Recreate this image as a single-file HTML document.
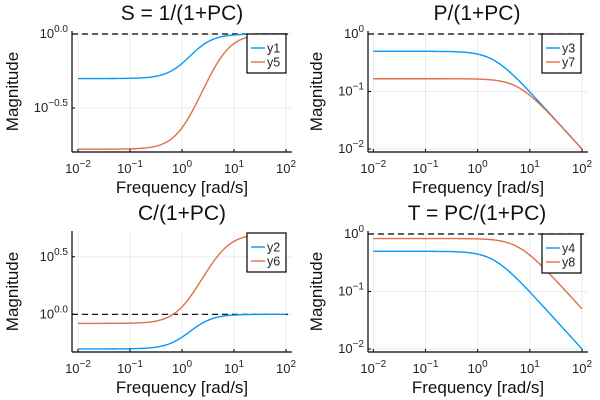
<!DOCTYPE html>
<html><head><meta charset="utf-8"><style>
html,body{margin:0;padding:0;background:#fff;}
svg{display:block;font-family:"Liberation Sans","DejaVu Sans",sans-serif;}
</style></head><body>
<svg id="s" width="600" height="400" xmlns="http://www.w3.org/2000/svg"></svg>
<script>
const svg=document.getElementById('s');let h='';
const panels=[
 {title:'S = 1/(1+PC)',ax:72,xa:78,xb:286,ar:292,yt:31,yb:152,yr:34,sc:148,ticks:[[0,'0.0'],[-0.5,'−0.5']],f:(w,k)=>Math.sqrt(w*w+1)/Math.sqrt(w*w+(1+k)*(1+k)),leg:['y1','y5'],lx:247,ly:34,cx:182},
 {title:'P/(1+PC)',ax:368,xa:373.3,xb:582,ar:588,yt:31,yb:152,yr:34,sc:57.5,ticks:[[0,'0'],[-1,'−1'],[-2,'−2']],f:(w,k)=>1/Math.sqrt(w*w+(1+k)*(1+k)),leg:['y3','y7'],lx:542,ly:34,cx:477},
 {title:'C/(1+PC)',ax:72,xa:78,xb:286,ar:292,yt:231,yb:352,yr:314.3,sc:115,ticks:[[0,'0.0'],[0.5,'0.5']],f:(w,k)=>k*Math.sqrt(w*w+1)/Math.sqrt(w*w+(1+k)*(1+k)),leg:['y2','y6'],lx:247,ly:233,cx:182},
 {title:'T = PC/(1+PC)',ax:368,xa:373.3,xb:582,ar:588,yt:231,yb:352,yr:234,sc:57.5,ticks:[[0,'0'],[-1,'−1'],[-2,'−2']],f:(w,k)=>k/Math.sqrt(w*w+(1+k)*(1+k)),leg:['y4','y8'],lx:542,ly:234,cx:477}
];
const cols=['#009af9','#e26f46'];
for(const p of panels){
 const X=l=>p.xa+(l+2)*(p.xb-p.xa)/4, Y=L=>p.yr-L*p.sc;
 for(let d=-2;d<=2;d++){const x=X(d);h+=`<line x1="${x}" y1="${p.yt}" x2="${x}" y2="${p.yb}" stroke="#e6e6e6" stroke-width="0.8"/>`;}
 for(const [L] of p.ticks){const y=Y(L);h+=`<line x1="${p.ax}" y1="${y}" x2="${p.ar}" y2="${y}" stroke="#e6e6e6" stroke-width="0.8"/>`;}
 h+=`<line x1="${p.ax}" y1="${Y(0)}" x2="${p.ar}" y2="${Y(0)}" stroke="#000" stroke-width="1.2" stroke-dasharray="6,4"/>`;
 [1,5].forEach((k,i)=>{let d='';for(let j=0;j<=300;j++){const l=-2+4*j/300;const w=Math.pow(10,l);const v=Math.log10(p.f(w,k));d+=(j?'L':'M')+X(l).toFixed(2)+','+Y(v).toFixed(2);}h+=`<path d="${d}" fill="none" stroke="${cols[i]}" stroke-width="1.4"/>`;});
 h+=`<line x1="${p.ax}" y1="${p.yt}" x2="${p.ax}" y2="${p.yb}" stroke="#000" stroke-width="1.2"/>`;
 h+=`<line x1="${p.ax}" y1="${p.yb}" x2="${p.ar}" y2="${p.yb}" stroke="#000" stroke-width="1.2"/>`;
 for(let d=-2;d<=2;d++){const x=X(d);h+=`<line x1="${x}" y1="${p.yb}" x2="${x}" y2="${p.yb-3}" stroke="#000"/>`;
  h+=`<text x="${x}" y="${p.yb+21}" font-size="13" text-anchor="middle" fill="#222">10<tspan dy="-6" font-size="10">${d<0?'−'+(-d):d}</tspan></text>`;}
 for(const [L,s] of p.ticks){const y=Y(L);h+=`<line x1="${p.ax}" y1="${y}" x2="${p.ax+3}" y2="${y}" stroke="#000"/>`;
  h+=`<text x="${p.ax-4}" y="${y+4}" font-size="13" text-anchor="end" fill="#222">10<tspan dy="-6" font-size="10">${s}</tspan></text>`;}
 h+=`<text x="${p.cx}" y="${p.yt-11}" font-size="21" text-anchor="middle" fill="#111">${p.title}</text>`;
 h+=`<text x="${(p.ax+p.ar)/2}" y="${p.yb+41}" font-size="17" text-anchor="middle" fill="#111">Frequency [rad/s]</text>`;
 const mx=p.ax<100?18:322;
 h+=`<text x="${mx}" y="${(p.yt+p.yb)/2}" font-size="17" text-anchor="middle" fill="#111" transform="rotate(-90 ${mx} ${(p.yt+p.yb)/2})">Magnitude</text>`;
 h+=`<rect x="${p.lx}" y="${p.ly}" width="39" height="39" fill="#fff" stroke="#000" stroke-width="1.2"/>`;
 p.leg.forEach((t,i)=>{const y=p.ly+14+i*14;h+=`<line x1="${p.lx+4}" y1="${y}" x2="${p.lx+18}" y2="${y}" stroke="${cols[i]}" stroke-width="1.4"/>`;h+=`<text x="${p.lx+20}" y="${y+4.5}" font-size="12.5" fill="#222">${t}</text>`;});
}
svg.innerHTML=h;
</script>
</body></html>
